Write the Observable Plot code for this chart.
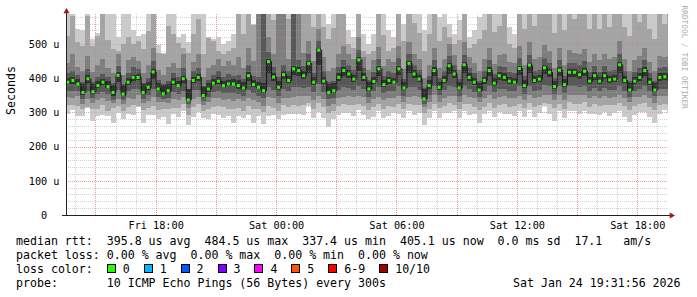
<!DOCTYPE html>
<html><head><meta charset="utf-8">
<script src="https://cdn.jsdelivr.net/npm/d3@7"></script>
<script src="https://cdn.jsdelivr.net/npm/@observablehq/plot@0.6"></script>
<style>
html,body{margin:0;padding:0;background:#fff;}
#wrap{position:relative;width:697px;height:297px;overflow:hidden;font-family:"DejaVu Sans Mono",monospace;}
.leg{position:absolute;left:16px;font-size:11.6px;line-height:14px;white-space:pre;color:#000;}
.box{display:inline-block;width:7px;height:7px;border:1px solid #000;vertical-align:baseline;}
</style></head><body><div id="wrap"></div>
<script>
// ---- data (15-minute steps starting Fri 13:30 UTC) ----
const median = [
390,395,385,360,400,362,380,390,377,360,
410,355,390,404,404,360,375,420,370,356,
365,390,380,400,338,395,404,351,370,387,
393,380,385,385,380,373,409,383,375,365,
450,405,375,412,395,429,424,409,445,390,
484,393,360,365,404,424,414,399,455,404,
370,392,429,383,395,390,429,373,445,414,
399,341,380,424,375,395,438,414,373,441,
404,390,367,395,424,387,409,404,393,390,
430,380,440,395,399,432,419,377,425,383,
419,419,412,422,393,409,393,409,397,399,
441,395,367,393,404,424,390,367,404,406,
405];
const ping01 = [
296,306,289,291,312,275,290,293,290,270,
298,280,295,292,315,268,294,293,280,288,
266,296,288,304,262,286,302,285,282,296,
293,285,291,270,291,284,292,270,289,265,
290,292,280,293,295,296,295,293,318,283,
302,285,258,282,292,299,299,291,306,293,
282,288,303,285,289,297,296,284,303,292,
297,262,284,304,284,297,297,303,283,304,
294,296,270,295,303,286,302,295,295,291,
304,287,306,286,297,318,296,275,304,283,
305,303,296,305,295,296,294,302,291,299,
303,288,272,292,302,302,287,270,295,306,
298];
const ping02 = [
321,321,319,311,316,309,310,323,305,312,
318,305,317,322,320,306,314,318,308,310,
309,314,313,324,293,316,324,305,310,316,
318,315,311,311,313,304,320,310,311,302,
320,314,305,321,315,322,320,323,327,311,
327,315,298,304,318,324,321,321,326,319,
307,316,325,311,319,317,324,309,325,322,
321,298,310,324,312,319,327,323,311,326,
324,316,308,317,328,314,322,325,317,319,
324,312,328,316,322,329,326,314,326,311,
330,325,326,330,317,326,319,322,321,321,
328,318,308,320,324,327,317,307,323,326,
323];
const ping03 = [
346,341,349,326,338,327,335,343,333,327,
340,325,342,340,350,328,334,344,332,330,
327,339,335,344,313,340,346,323,330,342,
343,335,339,333,338,334,342,336,331,320,
345,342,329,341,341,344,348,347,347,336,
349,339,320,324,343,346,347,345,348,344,
327,340,345,336,341,343,348,331,345,348,
345,316,332,350,332,343,349,348,331,350,
346,341,330,341,350,340,346,347,343,341,
348,337,350,342,346,351,351,336,350,336,
352,351,350,352,342,348,343,348,343,346,
350,342,330,344,346,351,342,329,347,348,
347];
const ping04 = [
364,363,364,338,363,341,355,359,355,337,
365,337,362,368,368,340,350,368,346,338,
342,361,353,364,325,365,366,333,346,361,
363,357,357,358,354,348,366,356,348,342,
375,367,349,369,363,374,374,371,375,361,
384,361,340,342,367,374,372,367,378,368,
345,362,373,356,363,363,376,349,375,373,
367,326,352,376,350,365,377,373,349,377,
368,361,345,363,376,360,370,369,363,363,
376,355,377,364,366,379,376,354,377,356,
377,377,374,377,364,372,363,372,365,367,
378,364,346,364,368,376,362,347,369,370,
369];
const ping05 = [
382,383,379,350,385,355,371,379,372,347,
390,349,381,392,396,353,365,398,362,350,
356,379,373,386,333,385,392,345,361,379,
383,373,376,379,369,365,391,374,368,357,
415,391,367,397,385,409,406,397,415,381,
439,383,354,357,392,406,400,389,420,392,
363,382,407,374,384,382,409,365,415,401,
389,336,370,406,367,385,413,400,365,415,
392,381,360,384,407,378,396,393,384,382,
410,372,415,385,388,412,404,370,407,374,
405,404,399,406,384,396,383,397,387,389,
416,385,361,384,392,406,381,361,393,394,
393];
const ping06 = [
400,403,397,382,409,382,391,399,391,380,
418,380,400,411,413,382,390,428,386,380,
383,400,392,408,368,404,412,375,385,398,
403,393,396,397,394,389,418,395,390,385,
456,414,391,420,407,436,433,420,451,404,
489,405,384,387,414,432,423,410,461,414,
388,403,436,396,405,402,436,389,451,423,
410,371,394,432,390,406,444,423,389,447,
414,402,387,405,432,400,418,414,404,402,
437,394,446,406,409,439,428,393,433,397,
428,427,421,430,405,419,405,419,408,410,
447,406,387,405,414,432,402,387,414,416,
415];
const ping07 = [
415,420,410,388,428,390,405,412,404,386,
436,384,414,432,426,385,401,450,395,382,
392,416,403,430,368,420,431,378,396,410,
420,405,412,408,410,398,440,407,404,600,
478,432,405,440,420,626,452,436,472,416,
510,420,388,392,432,452,440,424,482,430,
395,418,456,408,422,416,458,398,472,440,
425,370,406,452,400,421,466,440,398,468,
430,415,392,422,452,412,436,432,418,415,
458,406,468,422,425,460,446,402,452,408,
446,444,438,450,418,436,419,436,422,425,
470,421,392,418,430,452,416,392,430,432,
431];
const ping08 = [
445,470,432,420,465,418,440,455,430,415,
470,410,452,462,450,415,440,490,425,410,
432,445,430,472,395,448,470,405,430,438,
455,435,450,438,462,430,490,450,615,610,
520,470,611,605,455,636,613,475,510,450,
545,462,420,430,470,495,470,455,520,462,
425,452,492,435,455,448,495,428,505,470,
455,400,438,490,430,455,500,468,425,505,
462,445,420,455,490,442,468,470,448,445,
495,440,505,455,462,498,480,430,490,440,
482,475,472,485,448,472,452,470,455,462,
508,455,420,452,465,490,448,422,465,462,
466];
const ping09 = [
525,583,507,495,582,494,531,612,511,485,
480,500,522,500,523,487,538,613,498,473,
553,530,502,490,473,529,572,472,518,508,
480,470,480,490,614,529,613,555,620,620,
616,569,621,615,572,641,623,605,611,549,
619,550,514,547,609,617,500,490,616,480,
470,480,611,526,480,490,616,509,616,563,
533,481,529,617,510,549,520,500,511,612,
490,500,514,540,615,535,553,609,500,490,
617,544,616,553,609,617,613,533,613,540,
613,574,611,615,543,611,545,609,551,610,
615,551,524,608,564,612,545,514,609,559,
605];
const ping10 = [
650,640,545,540,660,515,525,680,600,620,
520,600,650,540,510,530,640,700,475,470,
630,600,520,530,505,620,650,600,520,515,
520,500,510,530,700,590,680,560,700,700,
680,640,700,690,620,720,700,680,690,620,
700,640,560,620,680,600,540,520,700,530,
500,530,690,600,540,520,700,560,690,640,
600,540,620,690,580,640,560,530,570,690,
520,540,580,640,700,620,660,690,550,530,
700,640,700,650,690,700,690,620,700,640,
690,660,690,700,640,690,650,690,640,690,
700,650,610,690,660,700,640,600,690,650,
690];

const yTicks = [0, 100, 200, 300, 400, 500];
const yTickLabels = ["0\u00a0\u00a0", "100 u", "200 u", "300 u", "400 u", "500 u"];
const xTickLabels = ["Fri 18:00", "Sat 00:00", "Sat 06:00", "Sat 12:00", "Sat 18:00"];
const xTickTimes = [
  new Date(Date.UTC(2026,0,23,18)), new Date(Date.UTC(2026,0,24,0)),
  new Date(Date.UTC(2026,0,24,6)), new Date(Date.UTC(2026,0,24,12)),
  new Date(Date.UTC(2026,0,24,18))];
const rttStats = ["395.8 us avg", "484.5 us max", "337.4 us min", "405.1 us now", "0.0 ms sd", "17.1   am/s"];
const lossStats = ["0.00 % avg", "0.00 % max", "0.00 % min", "0.00 % now"];
const lossLabels = ["0", "1", "2", "3", "4", "5", "6-9", "10/10"];
const lossColors = ["#26ff00", "#00b8ff", "#0059ff", "#7e00ff", "#ff00ff", "#ff5500", "#ff0000", "#a10000"];
const probeText = "10 ICMP Echo Pings (56 Bytes) every 300s";
const stampText = "Sat Jan 24 19:31:56 2026";

// ---- build tables ----
const stepMs = 15 * 60 * 1000;
const t0 = Date.UTC(2026, 0, 23, 13, 30);
const xDomain = [new Date(Date.UTC(2026,0,23,13,31,56)), new Date(Date.UTC(2026,0,24,19,31,56))];
const pings = [ping01, ping02, ping03, ping04, ping05, ping06, ping07, ping08, ping09, ping10];
const grays = ["#cacaca", "#a4a4a4", "#7e7e7e", "#585858", "#323232"];
const bands = grays.map(() => []);
const medRows = [];
median.forEach((m, i) => {
  const t = new Date(t0 + i * stepMs), t2 = new Date(t0 + (i + 1) * stepMs);
  const s = pings.map(p => p[i]).sort((a, b) => a - b);
  for (let k = 0; k < 5; k++) bands[k].push({x1: t, x2: t2, y1: s[k], y2: s[9 - k]});
  medRows.push({t, t2, v: m});
});
const yMinor = d3.range(20, 588, 20).filter(v => v % 100 !== 0);
const yMajor = yTicks.filter(v => v > 0);
const xMajor = d3.utcHour.every(3).range(xDomain[0], xDomain[1]);
const xMinor = d3.utcHour.range(xDomain[0], xDomain[1]).filter(d => d.getUTCHours() % 3 !== 0);
const mono = "'DejaVu Sans Mono', monospace";
const grid = (op1, op2) => [
  Plot.ruleY(yMinor, {stroke: "#bababa", strokeOpacity: op1, strokeDasharray: "1,1", shapeRendering: "crispEdges"}),
  Plot.ruleX(xMinor, {stroke: "#bababa", strokeOpacity: op1, strokeDasharray: "1,1", shapeRendering: "crispEdges"}),
  Plot.ruleY(yMajor, {stroke: "#e05050", strokeOpacity: op2, strokeDasharray: "1,1", shapeRendering: "crispEdges"}),
  Plot.ruleX(xMajor, {stroke: "#e05050", strokeOpacity: op2, strokeDasharray: "1,1", shapeRendering: "crispEdges"})
];

const chart = Plot.plot({
  width: 697, height: 297,
  marginLeft: 66, marginRight: 29, marginTop: 14, marginBottom: 82,
  style: {fontFamily: mono, fontSize: "10.2px", background: "#fff", color: "#000", overflow: "visible"},
  x: {type: "utc", domain: xDomain},
  y: {domain: [0, 588]},
  marks: [
    ...grid(0.55, 0.45),
    ...grays.map((g, k) => Plot.rect(bands[k], {x1: "x1", x2: "x2", y1: "y1", y2: "y2", fill: g, clip: true, shapeRendering: "crispEdges"})),
    Plot.line(medRows, {x: "t", y: "v", curve: "step-after", stroke: "#161616", strokeWidth: 1, clip: true}),
    Plot.ruleY(medRows, {x1: "t", x2: "t2", y: "v", stroke: lossColors[0], strokeWidth: 3, insetLeft: 1, insetRight: 1, clip: true}),
    ...grid(0.25, 0.2),
    Plot.ruleY([0], {stroke: "#202020", insetLeft: -4, insetRight: -2, shapeRendering: "crispEdges"}),
    Plot.ruleX([xDomain[0]], {stroke: "#202020", insetTop: -4, shapeRendering: "crispEdges"}),
    Plot.dot([0], {frameAnchor: "top-left", symbol: "triangle", r: 2.3, fill: "#a01818", stroke: "none", dy: -3}),
    Plot.dot([0], {frameAnchor: "bottom-right", symbol: "triangle", r: 2.3, fill: "#a01818", stroke: "none", dx: 3, rotate: 90}),
    Plot.axisX({ticks: xTickTimes, tickFormat: d => xTickLabels[xTickTimes.findIndex(t => +t === +d)], tickSize: 0, tickPadding: 6, label: null}),
    Plot.axisY({ticks: yTicks, tickFormat: d => yTickLabels[yTicks.indexOf(d)], tickSize: 0, tickPadding: 7, label: null}),
    Plot.text(["Seconds"], {frameAnchor: "left", dx: -55, rotate: -90, fontSize: 11.6, fontFamily: mono, fill: "#000"}),
    Plot.text(["RRDTOOL / TOBI OETIKER"], {frameAnchor: "top-right", dx: 19, dy: -9, rotate: 90, textAnchor: "start", fontSize: 7.8, fontFamily: mono, fill: "#a8a8a8"})
  ]
});
const wrap = document.getElementById("wrap");
wrap.appendChild(chart);

function line(top, left, text) {
  const d = document.createElement("div");
  d.className = "leg"; d.style.top = top + "px"; if (left != null) d.style.left = left + "px";
  if (text != null) d.textContent = text;
  wrap.appendChild(d); return d;
}
line(234, null, "median rtt:  " + rttStats.join("  "));
line(248, null, "packet loss: " + lossStats.join("  "));
const lc = line(262, null, "loss color:  ");
lossLabels.forEach((lab, i) => {
  const b = document.createElement("span");
  b.className = "box"; b.style.background = lossColors[i];
  lc.appendChild(b);
  lc.appendChild(document.createTextNode(" " + lab + (i < lossLabels.length - 1 ? "  " : "")));
});
line(276, null, "probe:       " + probeText);
line(276, 513, stampText);
</script></body></html>
